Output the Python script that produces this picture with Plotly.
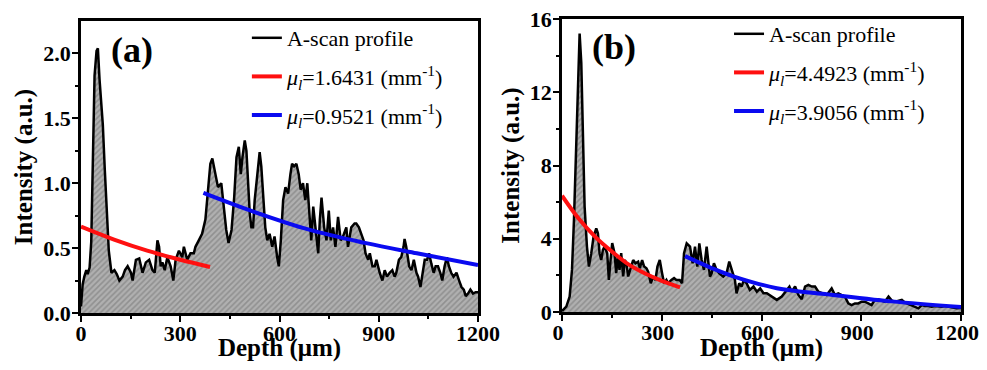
import plotly.graph_objects as go

# ---------------- Panel (a) data ----------------
depth_a = [0, 5, 10, 16, 20, 26, 31, 36, 41, 47, 51, 56, 61, 66, 72, 77, 84, 92, 101, 108,
           116, 126, 133, 141, 151, 156, 166, 176, 186, 196, 206, 216, 223, 231, 236, 241, 246, 253, 261, 271,
           279, 286, 296, 306, 311, 321, 331, 341, 346, 356, 366, 376, 383, 391, 397, 409, 414, 424, 429, 439,
           446, 455, 463, 470, 477, 483, 488, 495, 500, 505, 510, 515, 520, 525, 535, 540, 545, 550, 557, 563,
           570, 578, 585, 593, 598, 604, 611, 618, 626, 633, 638, 644, 651, 658, 664, 671, 678, 684, 691, 696,
           702, 708, 717, 722, 727, 735, 742, 749, 755, 762, 769, 777, 785, 792, 802, 807, 817, 827, 832, 840,
           847, 854, 860, 868, 873, 881, 888, 893, 903, 911, 918, 925, 933, 941, 948, 953, 961, 968, 975, 978,
           983, 992, 999, 1006, 1014, 1019, 1026, 1032, 1039, 1046, 1052, 1059, 1066, 1072, 1079, 1086, 1092, 1099, 1106, 1112,
           1119, 1126, 1135, 1143, 1150, 1157, 1163, 1170, 1177, 1185, 1193, 1200]
intensity_a = [0.05, 0.22, 0.28, 0.33, 0.30, 0.35, 0.55, 1.32, 1.83, 2.02, 2.04, 1.80, 1.59, 1.45, 1.10, 0.82, 0.48, 0.31, 0.33, 0.30,
               0.25, 0.28, 0.33, 0.36, 0.31, 0.25, 0.41, 0.42, 0.31, 0.39, 0.41, 0.33, 0.31, 0.56, 0.51, 0.36, 0.39, 0.33, 0.43, 0.36,
               0.25, 0.41, 0.48, 0.43, 0.51, 0.41, 0.46, 0.46, 0.51, 0.56, 0.61, 0.72, 0.95, 1.15, 1.19, 1.02, 0.97, 1.00, 0.89, 0.64,
               0.54, 0.64, 0.89, 1.20, 1.28, 1.07, 1.20, 1.33, 1.25, 1.00, 0.77, 0.66, 0.66, 0.87, 1.13, 1.24, 1.13, 0.89, 0.66, 0.56,
               0.61, 0.51, 0.59, 0.43, 0.36, 0.56, 0.87, 0.97, 0.92, 1.07, 1.15, 1.13, 1.15, 1.07, 0.95, 1.00, 0.87, 1.00, 0.77, 0.56,
               0.82, 0.66, 0.46, 0.72, 0.89, 0.66, 0.56, 0.79, 0.56, 0.66, 0.51, 0.74, 0.56, 0.59, 0.66, 0.51, 0.66, 0.69, 0.69, 0.66,
               0.61, 0.56, 0.46, 0.41, 0.46, 0.36, 0.36, 0.41, 0.31, 0.25, 0.33, 0.28, 0.31, 0.33, 0.28, 0.31, 0.41, 0.43, 0.51, 0.57,
               0.51, 0.36, 0.33, 0.41, 0.31, 0.28, 0.20, 0.31, 0.41, 0.41, 0.46, 0.38, 0.31, 0.36, 0.36, 0.31, 0.25, 0.36, 0.43, 0.36,
               0.31, 0.28, 0.31, 0.25, 0.20, 0.18, 0.13, 0.15, 0.18, 0.15, 0.16, 0.16]
fit1_depth_a = [0, 100, 200, 300, 390]
fit1_a = [0.665, 0.565, 0.48, 0.41, 0.355]
fit2_depth_a = [370, 511, 692, 858, 1015, 1200]
fit2_a = [0.925, 0.79, 0.64, 0.54, 0.46, 0.37]

# ---------------- Panel (b) data ----------------
depth_b = [0, 13, 23, 30, 36, 43, 48, 53, 58, 63, 68, 75, 81, 88, 95, 103, 108, 113, 118, 123,
           128, 136, 141, 146, 151, 158, 163, 168, 173, 178, 184, 189, 194, 199, 207, 214, 221, 229, 234, 241,
           247, 254, 259, 267, 274, 281, 287, 294, 301, 307, 314, 319, 329, 337, 344, 354, 361, 367, 375, 385,
           393, 400, 407, 413, 420, 427, 435, 440, 445, 450, 457, 465, 473, 485, 495, 503, 510, 520, 525, 533,
           540, 547, 555, 565, 576, 586, 596, 606, 616, 631, 646, 661, 676, 684, 691, 701, 711, 721, 731, 741,
           751, 761, 771, 781, 796, 811, 821, 831, 841, 851, 861, 871, 881, 891, 901, 911, 921, 931, 941, 951,
           961, 971, 982, 992, 1002, 1012, 1022, 1032, 1042, 1052, 1062, 1072, 1082, 1092, 1102, 1112, 1122, 1132, 1142, 1152,
           1162, 1172, 1187, 1200]
intensity_b = [0.05, 0.29, 0.84, 2.30, 5.03, 9.59, 13.2, 15.2, 13.6, 9.04, 5.76, 3.57, 2.48, 3.21, 4.12, 4.57, 4.30, 3.21, 2.84, 3.39,
               3.57, 3.21, 1.75, 2.84, 3.76, 3.21, 2.12, 3.03, 2.30, 3.21, 1.94, 2.84, 2.66, 1.94, 2.48, 2.84, 2.66, 2.75, 2.39, 2.84,
               2.48, 2.39, 2.20, 1.57, 1.94, 1.75, 2.48, 2.84, 2.12, 1.57, 1.75, 1.57, 1.75, 1.85, 1.75, 1.75, 1.57, 3.21, 3.75, 3.57,
               2.66, 3.57, 2.48, 3.75, 2.84, 2.30, 3.57, 2.66, 1.93, 2.11, 2.66, 2.30, 2.11, 1.93, 2.11, 2.75, 2.30, 1.75, 1.02, 1.57,
               1.39, 1.75, 1.57, 1.20, 1.39, 1.11, 1.29, 1.02, 1.02, 0.84, 0.66, 0.84, 1.20, 1.39, 1.11, 1.39, 0.93, 0.70, 1.39, 1.48,
               1.39, 1.39, 1.11, 1.02, 0.93, 1.29, 0.93, 1.02, 0.93, 0.84, 0.47, 0.38, 0.47, 0.47, 0.56, 0.56, 0.47, 0.38, 0.66, 0.69,
               0.62, 0.56, 0.84, 0.62, 0.56, 0.62, 0.66, 0.51, 0.44, 0.38, 0.29, 0.20, 0.38, 0.33, 0.33, 0.29, 0.33, 0.29, 0.29, 0.33,
               0.29, 0.26, 0.20, 0.22]
fit1_depth_b = [0, 50, 100, 150, 200, 250, 300, 355]
fit1_b = [6.35, 5.1, 4.1, 3.3, 2.6, 2.1, 1.7, 1.35]
fit2_depth_b = [370, 450, 515, 646, 791, 991, 1200]
fit2_b = [3.05, 2.4, 1.95, 1.3, 0.98, 0.58, 0.27]

# ---------------- Labels ----------------
profile_name = "A-scan profile"
fit_names_a = ["<i>μ<sub>l</sub></i>=1.6431 (mm<sup>-1</sup>)", "<i>μ<sub>l</sub></i>=0.9521 (mm<sup>-1</sup>)"]
fit_names_b = ["<i>μ<sub>l</sub></i>=4.4923 (mm<sup>-1</sup>)", "<i>μ<sub>l</sub></i>=3.9056 (mm<sup>-1</sup>)"]
x_ticks = [0, 300, 600, 900, 1200]
y_ticks_a = [0.0, 0.5, 1.0, 1.5, 2.0]
y_ticks_b = [0, 4, 8, 12, 16]

# The page body has an 8px margin, so the figure is drawn 8px in from the top-left corner.
OFF = 8
W, H = 987 - OFF, 370 - 2 * OFF

def px_x(p):
    return (p - OFF) / W

def px_y(p):
    return (OFF + H - p) / H

SERIF = "Liberation Serif"
fill_pattern = dict(shape="/", bgcolor="#b0b0b0", fgcolor="#707070", size=4, solidity=0.4)

fig = go.Figure()

def add_panel(xref, yref, legend, depth, inten, f1x, f1y, f2x, f2y, names):
    # hatched grey area under the profile (no legend entry)
    fig.add_trace(go.Scatter(x=depth, y=inten, mode="lines", line=dict(width=0, color="#b0b0b0"),
                             fill="tozeroy", fillcolor="#b0b0b0", fillpattern=fill_pattern,
                             showlegend=False, hoverinfo="skip", xaxis=xref, yaxis=yref))
    fig.add_trace(go.Scatter(x=depth, y=inten, mode="lines", name=profile_name,
                             line=dict(color="black", width=2.5),
                             xaxis=xref, yaxis=yref, legend=legend, legendgroup=legend + "p"))
    fig.add_trace(go.Scatter(x=f1x, y=f1y, mode="lines", name=names[0],
                             line=dict(color="#ff1010", width=4, shape="spline"),
                             xaxis=xref, yaxis=yref, legend=legend, legendgroup=legend + "r"))
    fig.add_trace(go.Scatter(x=f2x, y=f2y, mode="lines", name=names[1],
                             line=dict(color="#0a0af0", width=4, shape="spline"),
                             xaxis=xref, yaxis=yref, legend=legend, legendgroup=legend + "b"))

add_panel("x", "y", "legend", depth_a, intensity_a, fit1_depth_a, fit1_a, fit2_depth_a, fit2_a, fit_names_a)
add_panel("x2", "y2", "legend2", depth_b, intensity_b, fit1_depth_b, fit1_b, fit2_depth_b, fit2_b, fit_names_b)

tickfont = dict(family=SERIF, size=22, color="black", weight="bold")
titlefont = dict(family=SERIF, size=25, color="black", weight="bold")
common = dict(showline=True, linecolor="black", linewidth=2.5, mirror=True, ticks="outside",
              ticklen=6, tickwidth=2, tickcolor="black", showgrid=False, zeroline=False,
              tickfont=tickfont, automargin=False, ticklabeloverflow="allow",
              minor=dict(ticks="outside", ticklen=3, tickwidth=2, tickcolor="black", showgrid=False))
xcommon = dict(common, ticklabelstandoff=-7)
ycommon = dict(common, ticklabelstandoff=-3)

legend_font = dict(family=SERIF, size=22, color="black")

fig.update_layout(
    width=W, height=H, margin=dict(l=0, r=0, t=0, b=0, autoexpand=False),
    paper_bgcolor="white", plot_bgcolor="white", showlegend=True,
    xaxis=dict(domain=[px_x(81), px_x(478)], range=[0, 1200], tickvals=x_ticks,
               title=dict(text="Depth (μm)", font=titlefont, standoff=5), **xcommon),
    yaxis=dict(domain=[px_y(313), px_y(21)], range=[0, 2.25], tickvals=y_ticks_a, tickformat=".1f",
               title=dict(text="Intensity (a.u.)", font=titlefont, standoff=4), **ycommon),
    xaxis2=dict(domain=[px_x(562), px_x(961)], range=[0, 1200], tickvals=x_ticks, anchor="y2",
                ticklabelshift=-4,
                title=dict(text="Depth (μm)", font=titlefont, standoff=5), **xcommon),
    yaxis2=dict(domain=[px_y(312), px_y(19)], range=[0, 16], tickvals=y_ticks_b, anchor="x2",
                title=dict(text="Intensity (a.u.)", font=titlefont, standoff=4), **ycommon),
    legend=dict(x=0.244, y=px_y(17), xanchor="left", yanchor="top", bgcolor="rgba(0,0,0,0)",
                font=legend_font, tracegroupgap=7, itemwidth=30),
    legend2=dict(x=0.7365, y=px_y(13), xanchor="left", yanchor="top", bgcolor="rgba(0,0,0,0)",
                 font=legend_font, tracegroupgap=7, itemwidth=30),
)
fig.update_xaxes(minor=dict(tickvals=[150, 450, 750, 1050]))
fig.update_layout(yaxis_minor_tickvals=[0.25, 0.75, 1.25, 1.75],
                  yaxis2_minor_tickvals=[2, 6, 10, 14])

fig.add_annotation(text="(a)", xref="paper", yref="paper", x=px_x(132), y=px_y(50),
                   xanchor="center", yanchor="middle", showarrow=False,
                   font=dict(family=SERIF, size=36, color="black", weight="bold"))
fig.add_annotation(text="(b)", xref="paper", yref="paper", x=px_x(614), y=px_y(47),
                   xanchor="center", yanchor="middle", showarrow=False,
                   font=dict(family=SERIF, size=36, color="black", weight="bold"))

fig.write_html("out.html")
